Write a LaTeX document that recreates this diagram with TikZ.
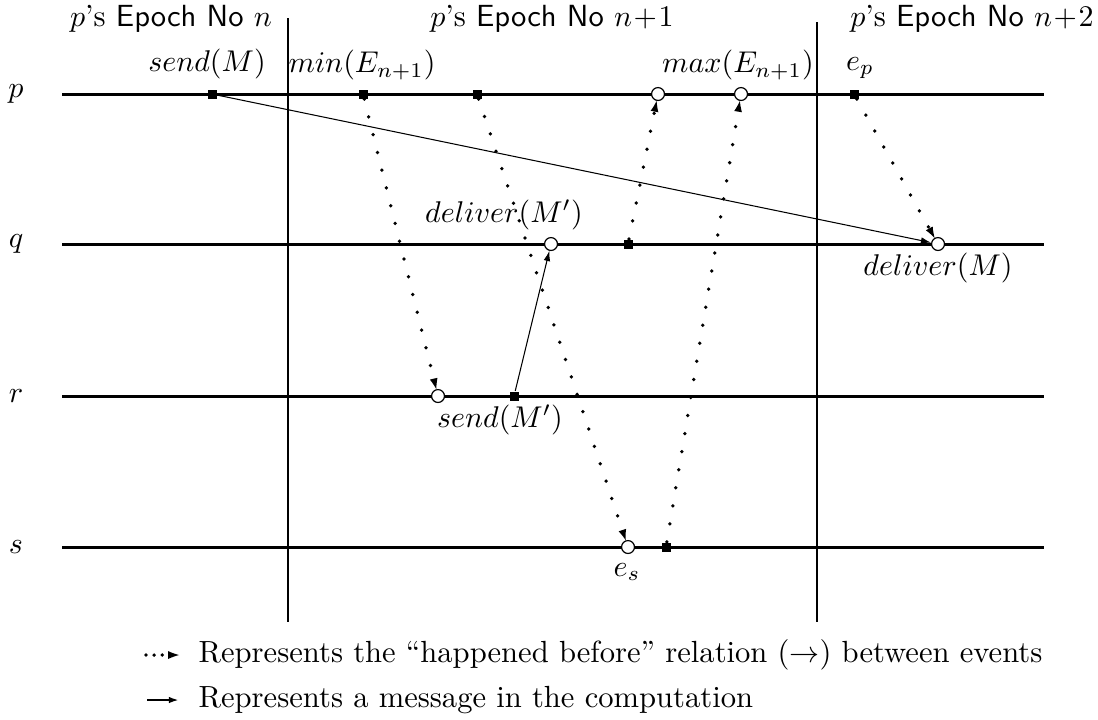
\documentclass[tikz,border=0pt]{standalone}
\usetikzlibrary{arrows.meta}
\begin{document}
\begin{tikzpicture}[x=0.3333pt,y=-0.3333pt,
  proc/.style={line width=1pt},
  epoch/.style={line width=0.7pt},
  msg/.style={-{Latex[length=3.4pt,width=2.2pt]}, line width=0.35pt},
  hb/.style={-{Latex[length=3.6pt,width=2.6pt,line width=0pt]}, line width=1.25pt, dash pattern=on 0pt off 6.1pt, line cap=round},
  hbleg/.style={-{Latex[length=3.6pt,width=2.6pt,line width=0pt]}, line width=1.25pt, dash pattern=on 0pt off 2.7pt, line cap=round},
  sq/.style={fill, minimum size=3pt, inner sep=0pt},
  ci/.style={circle, draw, line width=0.4pt, minimum size=4.3pt, inner sep=0pt, fill=white},
  lbl/.style={inner sep=0pt, font=\fontsize{10.2}{12}\selectfont}
]
\path[use as bounding box] (0,0) rectangle (1098,719);

% headers
\node[lbl] (h1) at (171,19) {$p$'s \textsf{Epoch No} $n$};
\node[lbl] (h2) at (552,19) {$p$'s \textsf{Epoch No} $n\!+\!1$};
\node[lbl] (h3) at (972,19) {$p$'s \textsf{Epoch No} $n\!+\!2$};

% epoch borders
\coordinate (v1t) at (288,18); \coordinate (v1b) at (288,622);
\coordinate (v2t) at (817,22); \coordinate (v2b) at (817,622);
\draw[epoch] (v1t) -- (v1b);
\draw[epoch] (v2t) -- (v2b);

% processes
\node[lbl] (lp) at (16,94) {$p$};
\node[lbl] (lq) at (16,244) {$q$};
\node[lbl] (lr) at (16,396) {$r$};
\node[lbl] (ls) at (16,547) {$s$};
\coordinate (pL) at (62,94);  \coordinate (pR) at (1044,94);
\coordinate (qL) at (62,244); \coordinate (qR) at (1044,244);
\coordinate (rL) at (62,396); \coordinate (rR) at (1044,396);
\coordinate (sL) at (62,547); \coordinate (sR) at (1044,547);
\draw[proc] (pL) -- (pR);
\draw[proc] (qL) -- (qR);
\draw[proc] (rL) -- (rR);
\draw[proc] (sL) -- (sR);

% events on p
\node[sq] (sendM) at (212,94) {};
\node[sq] (minE) at (363,94) {};
\node[sq] (p3) at (477,94) {};
\node[ci] (p4) at (658,94) {};
\node[ci] (maxE) at (741,94) {};
\node[sq] (ep) at (854,94) {};
% events on q
\node[ci] (delMp) at (551,244) {};
\node[sq] (q2) at (628,244) {};
\node[ci] (delM) at (938,244) {};
% events on r
\node[ci] (r1) at (438,396) {};
\node[sq] (sendMp) at (514,396) {};
% events on s
\node[ci] (es) at (628,547) {};
\node[sq] (s2) at (666,547) {};

% event labels
\node[lbl] at (207,64) {$send(M)$};
\node[lbl] at (362,65) {$min(E_{n+1})$};
\node[lbl] at (738,65) {$max(E_{n+1})$};
\node[lbl] at (860,68) {$e_p$};
\node[lbl] at (504,215) {$deliver(M')$};
\node[lbl] at (938,268) {$deliver(M)$};
\node[lbl] at (500,420) {$send(M')$};
\node[lbl] at (627,572) {$e_s$};

% messages
\draw[msg] (sendM) -- (delM);
\draw[msg] (sendMp) -- (delMp);

% happened-before
\draw[hb] (minE) -- (r1);
\draw[hb] (p3) -- (es);
\draw[hb] (q2) -- (p4);
\draw[hb] (s2) -- (maxE);
\draw[hb] (ep) -- (delM);

% legend
\coordinate (l1a) at (146,655); \coordinate (l1b) at (179,655);
\coordinate (l2a) at (147,700); \coordinate (l2b) at (179,700);
\draw[hbleg] (l1a) -- (l1b);
\draw[msg, line width=0.8pt] (l2a) -- (l2b);
\node[lbl, anchor=west] (t1) at (198,655) {Represents the ``happened before'' relation ($\rightarrow$) between events};
\node[lbl, anchor=west] (t2) at (198,700) {Represents a message in the computation};
\end{tikzpicture}
\end{document}
